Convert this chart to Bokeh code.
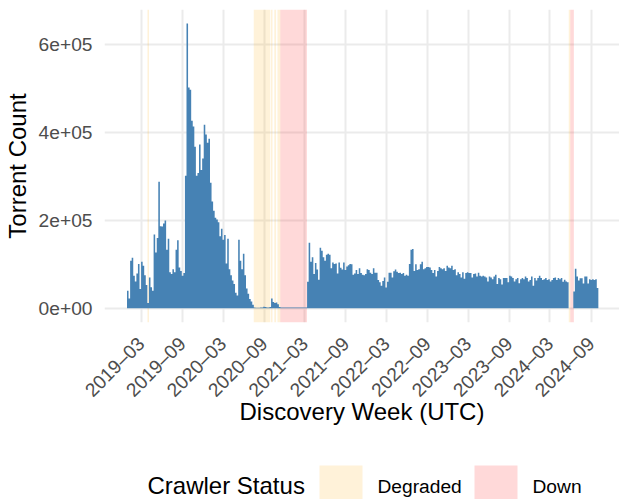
import math
import pandas as pd
from bokeh.plotting import figure
from bokeh.models import Range1d, FixedTicker
from bokeh.layouts import column
from bokeh.embed import file_html
from bokeh.resources import INLINE
from bokeh.core.properties import value

# ---------------- data ----------------
first_week = "2018-12-31"   # weekly bins (Monday starts)

counts_2019 = [40000, 22000, 108000, 115000, 74000, 61000, 79000, 101000, 44000, 106000,
               97000, 75000, 53000, 12000, 70000, 48000, 40000, 168000, 127000, 160000,
               288000, 187000, 186000, 193000, 200000, 133000, 158000, 82000, 78000, 89000,
               82000, 133000, 155000, 93000, 85000, 74000, 80000, 302000, 649000, 503000,
               498000, 427000, 414000, 368000, 302000, 308000, 373000, 315000, 341000, 418000,
               396000, 377000]
counts_2020 = [386000, 286000, 243000, 222000, 206000, 202000, 196000, 164000, 181000, 156000,
               167000, 102000, 158000, 89000, 75000, 63000, 55000, 35000, 29000, 156000,
               108000, 89000, 124000, 75000, 45000, 33000, 21000, 15000, 8000, 1500,
               1200, 1000, 1200, 1400, 1800, 3500, 3000, 1500, 1600, 2500,
               22000, 14000, 12000, 13000, 9000, 3000, 1500, 1500, 1500, 1500,
               1500, 1500]
counts_2021 = [1500, 1500, 1500, 1500, 1500, 1500, 1500, 1500, 1500, 1500, 1500,
               60000, 149000, 106000, 116000, 78000, 103000, 88000, 65000, 138000, 131000,
               116000, 108000, 122000, 124000, 122000, 91000, 104000, 101000, 102000, 79000,
               104000, 92000, 88000, 104000, 87000, 95000, 98000, 101000, 100000, 76000,
               79000, 87000, 78000, 91000, 80000, 76000, 75000, 78000, 89000, 87000, 81000]
counts_2022 = [78000, 91000, 81000, 81000, 64000, 59000, 51000, 62000, 70000, 47000,
               60000, 81000, 81000, 70000, 84000, 88000, 83000, 80000, 81000, 78000,
               80000, 74000, 76000, 74000, 101000, 133000, 135000, 85000, 100000, 87000,
               89000, 100000, 106000, 89000, 91000, 94000, 94000, 93000, 87000, 80000,
               87000, 72000, 85000, 94000, 91000, 89000, 91000, 85000, 97000, 93000, 91000, 97000]
counts_2023 = [87000, 89000, 75000, 82000, 78000, 70000, 82000, 67000, 80000, 82000,
               80000, 80000, 70000, 78000, 79000, 72000, 81000, 74000, 72000, 74000,
               72000, 70000, 61000, 72000, 70000, 66000, 72000, 76000, 55000, 69000,
               66000, 54000, 69000, 69000, 69000, 59000, 74000, 72000, 69000, 61000,
               66000, 69000, 57000, 66000, 69000, 66000, 72000, 69000, 61000, 64000, 72000, 51000]
counts_2024 = [69000, 63000, 69000, 74000, 69000, 64000, 66000, 69000, 64000, 66000,
               61000, 64000, 69000, 70000, 64000, 69000, 66000, 69000, 60000, 65000,
               61000, 59000, 0, 0, 0, 38000, 90000, 72000, 63000, 68000,
               68000, 56000, 72000, 72000, 56000, 66000, 64000, 66000, 64000, 66000, 46000]

week_counts = counts_2019 + counts_2020 + counts_2021 + counts_2022 + counts_2023 + counts_2024

degraded_start = ["2019-03-29", "2020-07-16", "2020-09-30", "2020-10-16", "2020-10-30", "2024-05-24"]
degraded_end   = ["2019-04-05", "2020-09-27", "2020-10-08", "2020-10-24", "2020-11-12", "2024-05-31"]
down_start = ["2020-11-12", "2024-05-31"]
down_end   = ["2021-03-11", "2024-06-16"]

y_ticks = [0, 200000, 400000, 600000]
y_tick_labels = ["0e+00", "2e+05", "4e+05", "6e+05"]
x_tick_dates = ["2019-03-01", "2019-09-01", "2020-03-01", "2020-09-01", "2021-03-01", "2021-09-01",
                "2022-03-01", "2022-09-01", "2023-03-01", "2023-09-01", "2024-03-01", "2024-09-01"]
x_tick_labels = ["2019–03", "2019–09", "2020–03", "2020–09", "2021–03", "2021–09",
                 "2022–03", "2022–09", "2023–03", "2023–09", "2024–03", "2024–09"]

statuses = ["Degraded", "Down"]
status_colors = ["#FFA500", "#FF0000"]

# ---------------- styling constants ----------------
FONT = "Liberation Sans"
BAR = "#4682B4"
GRID = "#EBEBEB"
TICK_TXT = "#4D4D4D"
W = 619
H_MAIN = 455
H_LEG = 44
LEFT = 104

x_start = pd.Timestamp("2018-09-18")
x_end = pd.Timestamp("2025-01-06")
y_start, y_end = -32600, 680700

# ---------------- main figure ----------------
p = figure(width=W, height=H_MAIN, output_backend="svg", toolbar_location=None,
           x_axis_type="datetime",
           x_range=Range1d(x_start, x_end), y_range=Range1d(y_start, y_end),
           min_border_left=LEFT, min_border_right=0, min_border_top=9, min_border_bottom=133)
p.outline_line_color = None
p.background_fill_color = "white"
p.border_fill_color = "white"

# crawler status shading
p.quad(left=pd.to_datetime(degraded_start), right=pd.to_datetime(degraded_end),
       bottom=y_start, top=y_end,
       fill_color=status_colors[0], fill_alpha=0.15, line_color=None)
p.quad(left=pd.to_datetime(down_start), right=pd.to_datetime(down_end),
       bottom=y_start, top=y_end,
       fill_color=status_colors[1], fill_alpha=0.15, line_color=None)

# weekly bars as a seamless step area
weeks = pd.date_range(first_week, periods=len(week_counts), freq="7D")
half = pd.Timedelta(days=3.5)
edges = list(weeks - half) + [weeks[-1] + half]
heights = list(week_counts) + [week_counts[-1]]
p.varea_step(x=edges, y1=0, y2=heights, step_mode="after", fill_color=BAR)

# axes
xt = [pd.Timestamp(d).value / 1e6 for d in x_tick_dates]
p.xaxis.ticker = FixedTicker(ticks=xt)
p.xaxis.major_label_overrides = dict(zip(xt, x_tick_labels))
p.yaxis.ticker = FixedTicker(ticks=y_ticks)
p.yaxis.major_label_overrides = dict(zip(y_ticks, y_tick_labels))

for ax in (p.xaxis[0], p.yaxis[0]):
    ax.axis_line_color = None
    ax.major_tick_line_color = None
    ax.minor_tick_line_color = None
    ax.major_tick_out = 0
    ax.major_tick_in = 0
    ax.minor_tick_out = 0
    ax.minor_tick_in = 0
    ax.major_label_text_font = FONT
    ax.major_label_text_font_size = "19.2px"
    ax.major_label_text_color = TICK_TXT
    ax.axis_label_text_font = FONT
    ax.axis_label_text_font_size = "24px"
    ax.axis_label_text_font_style = "normal"
    ax.axis_label_text_color = "black"

p.xaxis.axis_label = "Discovery Week (UTC)"
p.xaxis.major_label_orientation = math.pi / 4
p.xaxis.major_label_standoff = 18
p.xaxis.axis_label_standoff = -13
p.yaxis.axis_label = "Torrent Count"
p.yaxis.major_label_standoff = 12
p.yaxis.axis_label_standoff = 5

p.xgrid.grid_line_color = GRID
p.ygrid.grid_line_color = GRID
p.xgrid.grid_line_width = 2
p.ygrid.grid_line_width = 2

# ---------------- legend strip (frame is aligned with the main frame) ----------------
leg = figure(width=W, height=H_LEG, output_backend="svg", toolbar_location=None,
             x_range=Range1d(LEFT, W), y_range=Range1d(0, H_LEG),
             x_axis_location=None, y_axis_location=None,
             min_border_left=LEFT, min_border_right=0, min_border_top=0, min_border_bottom=0)
leg.outline_line_color = None
leg.xgrid.visible = False
leg.ygrid.visible = False
leg.background_fill_color = "white"
leg.border_fill_color = "white"

leg.text(x=[147], y=[14], text=["Crawler Status"], text_font=value(FONT),
         text_font_size="24px", text_baseline="middle", text_color="black")
key_left = [319, 474]
leg.quad(left=key_left, right=[k + 43 for k in key_left], bottom=[-10, -10], top=[34, 34],
         fill_color=status_colors, fill_alpha=0.15, line_color=None)
leg.text(x=[k + 58 for k in key_left], y=[13, 13], text=statuses, text_font=value(FONT),
         text_font_size="19.2px", text_baseline="middle", text_color="black")

layout = column(p, leg, spacing=0)
open("out.html", "w").write(file_html(layout, INLINE))
